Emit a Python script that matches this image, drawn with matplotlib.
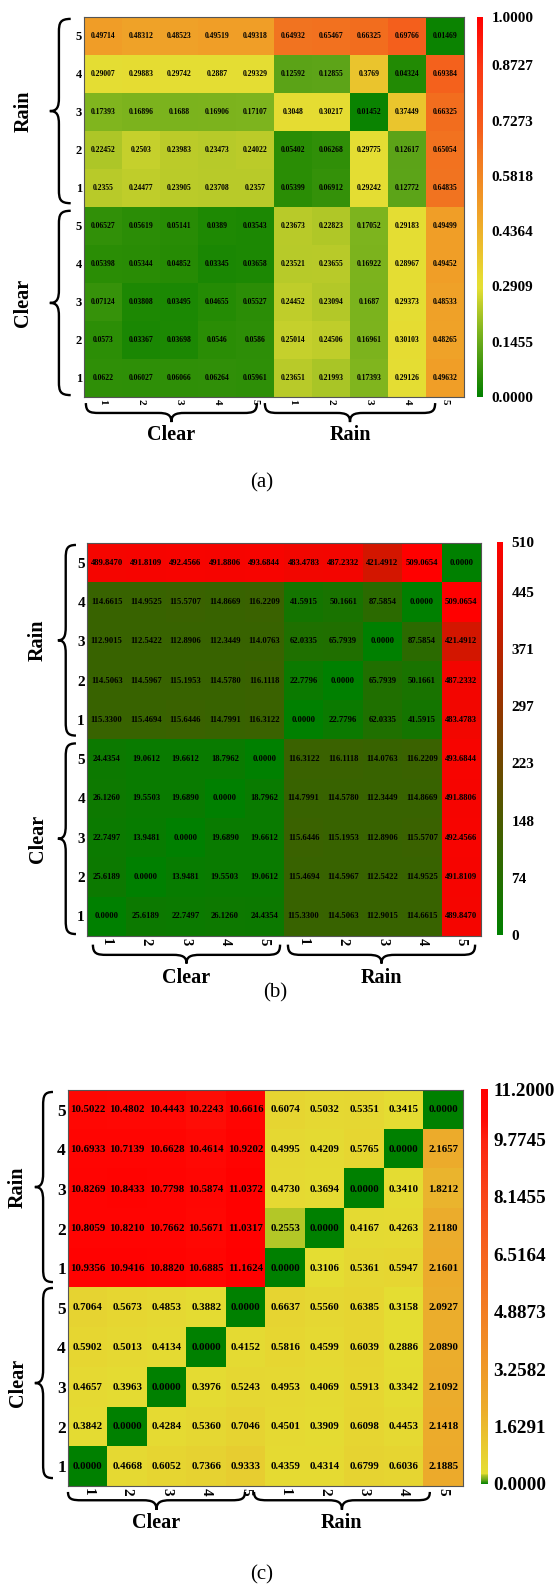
import numpy as np
import matplotlib.pyplot as plt
from matplotlib.colors import LinearSegmentedColormap
from matplotlib.path import Path
from matplotlib.patches import PathPatch
from matplotlib.transforms import blended_transform_factory

plt.rcParams["font.family"] = ["Liberation Serif", "DejaVu Serif"]
plt.rcParams["font.weight"] = "bold"

W, H = 558, 1588

# tick labels (rows listed top to bottom)
row_labels = ["5", "4", "3", "2", "1", "5", "4", "3", "2", "1"]
col_labels = ["1", "2", "3", "4", "5", "1", "2", "3", "4", "5"]
groups = ["Clear", "Rain"]

# panel (a)
a_vals = [
    [0.49714, 0.48312, 0.48523, 0.49519, 0.49318, 0.64932, 0.65467, 0.66325, 0.69766, 0.01469],
    [0.29007, 0.29883, 0.29742, 0.2887, 0.29329, 0.12592, 0.12855, 0.3769, 0.04324, 0.69384],
    [0.17393, 0.16896, 0.1688, 0.16906, 0.17107, 0.3048, 0.30217, 0.01452, 0.37449, 0.66325],
    [0.22452, 0.2503, 0.23983, 0.23473, 0.24022, 0.05402, 0.06268, 0.29775, 0.12617, 0.65054],
    [0.2355, 0.24477, 0.23905, 0.23708, 0.2357, 0.05399, 0.06912, 0.29242, 0.12772, 0.64835],
    [0.06527, 0.05619, 0.05141, 0.0389, 0.03543, 0.23673, 0.22823, 0.17052, 0.29183, 0.49499],
    [0.05398, 0.05344, 0.04852, 0.03345, 0.03658, 0.23521, 0.23655, 0.16922, 0.28967, 0.49452],
    [0.07124, 0.03808, 0.03495, 0.04655, 0.05527, 0.24452, 0.23094, 0.1687, 0.29373, 0.48533],
    [0.0573, 0.03367, 0.03698, 0.0546, 0.0586, 0.25014, 0.24506, 0.16961, 0.30103, 0.48265],
    [0.0622, 0.06027, 0.06066, 0.06264, 0.05961, 0.23651, 0.21993, 0.17393, 0.29126, 0.49632],
]
a_ticks = [0.0, 0.1455, 0.2909, 0.4364, 0.5818, 0.7273, 0.8727, 1.0]

# panel (b)
b_vals = [
    [489.8470, 491.8109, 492.4566, 491.8806, 493.6844, 483.4783, 487.2332, 421.4912, 509.0654, 0.0],
    [114.6615, 114.9525, 115.5707, 114.8669, 116.2209, 41.5915, 50.1661, 87.5854, 0.0, 509.0654],
    [112.9015, 112.5422, 112.8906, 112.3449, 114.0763, 62.0335, 65.7939, 0.0, 87.5854, 421.4912],
    [114.5063, 114.5967, 115.1953, 114.5780, 116.1118, 22.7796, 0.0, 65.7939, 50.1661, 487.2332],
    [115.3300, 115.4694, 115.6446, 114.7991, 116.3122, 0.0, 22.7796, 62.0335, 41.5915, 483.4783],
    [24.4354, 19.0612, 19.6612, 18.7962, 0.0, 116.3122, 116.1118, 114.0763, 116.2209, 493.6844],
    [26.1260, 19.5503, 19.6890, 0.0, 18.7962, 114.7991, 114.5780, 112.3449, 114.8669, 491.8806],
    [22.7497, 13.9481, 0.0, 19.6890, 19.6612, 115.6446, 115.1953, 112.8906, 115.5707, 492.4566],
    [25.6189, 0.0, 13.9481, 19.5503, 19.0612, 115.4694, 114.5967, 112.5422, 114.9525, 491.8109],
    [0.0, 25.6189, 22.7497, 26.1260, 24.4354, 115.3300, 114.5063, 112.9015, 114.6615, 489.8470],
]
b_ticks = [0, 74, 148, 223, 297, 371, 445, 510]

# panel (c)
c_vals = [
    [10.5022, 10.4802, 10.4443, 10.2243, 10.6616, 0.6074, 0.5032, 0.5351, 0.3415, 0.0],
    [10.6933, 10.7139, 10.6628, 10.4614, 10.9202, 0.4995, 0.4209, 0.5765, 0.0, 2.1657],
    [10.8269, 10.8433, 10.7798, 10.5874, 11.0372, 0.4730, 0.3694, 0.0, 0.3410, 1.8212],
    [10.8059, 10.8210, 10.7662, 10.5671, 11.0317, 0.2553, 0.0, 0.4167, 0.4263, 2.1180],
    [10.9356, 10.9416, 10.8820, 10.6885, 11.1624, 0.0, 0.3106, 0.5361, 0.5947, 2.1601],
    [0.7064, 0.5673, 0.4853, 0.3882, 0.0, 0.6637, 0.5560, 0.6385, 0.3158, 2.0927],
    [0.5902, 0.5013, 0.4134, 0.0, 0.4152, 0.5816, 0.4599, 0.6039, 0.2886, 2.0890],
    [0.4657, 0.3963, 0.0, 0.3976, 0.5243, 0.4953, 0.4069, 0.5913, 0.3342, 2.1092],
    [0.3842, 0.0, 0.4284, 0.5360, 0.7046, 0.4501, 0.3909, 0.6098, 0.4453, 2.1418],
    [0.0, 0.4668, 0.6052, 0.7366, 0.9333, 0.4359, 0.4314, 0.6799, 0.6036, 2.1885],
]
c_ticks = [0.0, 1.6291, 3.2582, 4.8873, 6.5164, 8.1455, 9.7745, 11.2]


def rgb(r, g, b):
    return (r / 255, g / 255, b / 255)


cmap_a = LinearSegmentedColormap.from_list("a", [
    (0.0, rgb(0, 128, 0)), (0.05, rgb(40, 140, 5)), (0.13, rgb(95, 165, 25)),
    (0.17, rgb(125, 180, 30)), (0.24, rgb(188, 204, 42)), (0.285, rgb(228, 222, 52)),
    (0.31, rgb(230, 220, 50)), (0.38, rgb(235, 195, 45)), (0.49, rgb(240, 160, 40)),
    (0.65, rgb(242, 115, 32)), (0.70, rgb(245, 95, 28)), (0.87, rgb(250, 55, 20)),
    (1.0, rgb(255, 0, 0))], N=1024)
cmap_b = LinearSegmentedColormap.from_list("b", [rgb(0, 128, 0), rgb(255, 0, 0)])
cmap_c = LinearSegmentedColormap.from_list("c", [
    (0.0, rgb(0, 128, 0)), (0.01, rgb(100, 165, 25)), (0.0228, rgb(180, 200, 40)),
    (0.0256, rgb(228, 222, 50)), (0.05, rgb(230, 215, 50)), (0.085, rgb(232, 205, 48)),
    (0.19, rgb(236, 172, 44)), (0.44, rgb(242, 125, 35)), (0.58, rgb(245, 100, 30)),
    (0.73, rgb(248, 70, 25)), (0.87, rgb(252, 35, 15)), (0.92, rgb(255, 10, 5)),
    (1.0, rgb(255, 0, 0))], N=4096)


def box(x0, y0, x1, y1):
    return [x0 / W, 1 - y1 / H, (x1 - x0) / W, (y1 - y0) / H]


def brace_path(p0, p1, e, l, t, r, vertical=False):
    m = (p0 + p1) / 2
    pts = [(p0, e), (p0, l + (e - l) * 0.1), (p0 + r * 0.3, l), (p0 + r, l),
           (m - r, l),
           (m - r * 0.3, l), (m, l + (t - l) * 0.2), (m, t),
           (m, l + (t - l) * 0.2), (m + r * 0.3, l), (m + r, l),
           (p1 - r, l),
           (p1 - r * 0.3, l), (p1, l + (e - l) * 0.1), (p1, e)]
    codes = [Path.MOVETO] + [Path.CURVE4] * 3 + [Path.LINETO] + [Path.CURVE4] * 6 + \
            [Path.LINETO] + [Path.CURVE4] * 3
    if vertical:
        pts = [(b, a) for a, b in pts]
    return Path(pts, codes)


def panel(rect, crect, vals, vmax, cmap, ticks, fmt, ann_size, row_size, col_size,
          cb_size, cb_pad, xbr, ybr, xoff, yoff, cap, cap_xy):
    ax = fig.add_axes(box(*rect))
    data = np.array(vals)
    im = ax.imshow(data, cmap=cmap, vmin=0, vmax=vmax, aspect="auto",
                   interpolation="nearest")
    for i in range(data.shape[0]):
        for j in range(data.shape[1]):
            ax.text(j, i, fmt(data[i, j]), ha="center", va="center",
                    fontsize=ann_size, fontweight="bold", color="black")
    ax.set_xticks(range(10))
    ax.set_xticklabels(col_labels, rotation=270, fontsize=col_size, fontweight="bold")
    ax.set_yticks(range(10))
    ax.set_yticklabels(row_labels, fontsize=row_size, fontweight="bold")
    ax.tick_params(length=0, pad=1.5)
    for s in ax.spines.values():
        s.set_color("#555555")
        s.set_linewidth(0.8)

    tx = blended_transform_factory(ax.transData, ax.transAxes)
    e, l, t, lab = xoff
    for (p0, p1), g in zip(xbr, groups):
        ax.add_patch(PathPatch(brace_path(p0, p1, e, l, t, 0.35), fc="none", ec="black",
                               lw=1.7, transform=tx, clip_on=False))
        ax.text((p0 + p1) / 2, lab, g, transform=tx, ha="center", va="top",
                fontsize=14.5, fontweight="bold")
    ty = blended_transform_factory(ax.transAxes, ax.transData)
    e, l, t, lab = yoff
    for (p0, p1), g in zip(ybr, groups[::-1]):
        ax.add_patch(PathPatch(brace_path(p0, p1, e, l, t, 0.35, vertical=True),
                               fc="none", ec="black", lw=1.7, transform=ty, clip_on=False))
        ax.text(lab, (p0 + p1) / 2, g, transform=ty, ha="center", va="center",
                rotation=90, fontsize=14.5, fontweight="bold")

    cax = fig.add_axes(box(*crect))
    cb = fig.colorbar(im, cax=cax, ticks=ticks)
    cb.outline.set_visible(False)
    cb.ax.tick_params(length=0, pad=cb_pad)
    if vmax == 510:
        cb.ax.set_yticklabels([str(v) for v in ticks], fontsize=cb_size, fontweight="bold")
    else:
        cb.ax.set_yticklabels([f"{v:.4f}" for v in ticks], fontsize=cb_size,
                              fontweight="bold")
    fig.text(cap_xy[0] / W, 1 - cap_xy[1] / H, cap, ha="center", va="center",
             fontsize=15, fontweight="normal")


fig = plt.figure(figsize=(W / 100, H / 100), dpi=100)

panel((84, 17, 464, 397), (477, 17, 483, 397), a_vals, 1.0, cmap_a, a_ticks,
      lambda v: f"{v:.5f}".rstrip("0"), 5.5, 9, 8, 11, 6,
      [(-0.45, 4.05), (4.26, 8.74)], [(-0.45, 4.4), (4.6, 9.45)],
      (-0.016, -0.042, -0.066, -0.075), (-0.035, -0.066, -0.09, -0.16),
      "(a)", (262, 483))

panel((87, 543, 481, 936), (497, 542, 503, 935), b_vals, 510, cmap_b, b_ticks,
      lambda v: f"{v:.4f}", 6.2, 11, 10.5, 11, 6,
      [(-0.35, 4.4), (4.6, 9.35)], [(-0.45, 4.4), (4.6, 9.45)],
      (-0.022, -0.048, -0.07, -0.082), (-0.028, -0.054, -0.074, -0.125),
      "(b)", (275, 993))

panel((68, 1090, 463, 1486), (481, 1089, 488, 1484), c_vals, 11.2, cmap_c, c_ticks,
      lambda v: f"{v:.4f}", 7.8, 12.5, 11, 13.8, 4,
      [(-0.5, 3.98), (4.21, 8.66)], [(-0.45, 4.35), (4.5, 9.3)],
      (-0.015, -0.036, -0.06, -0.068), (-0.038, -0.063, -0.084, -0.127),
      "(c)", (262, 1575))

fig.savefig("out.png", dpi=100)
